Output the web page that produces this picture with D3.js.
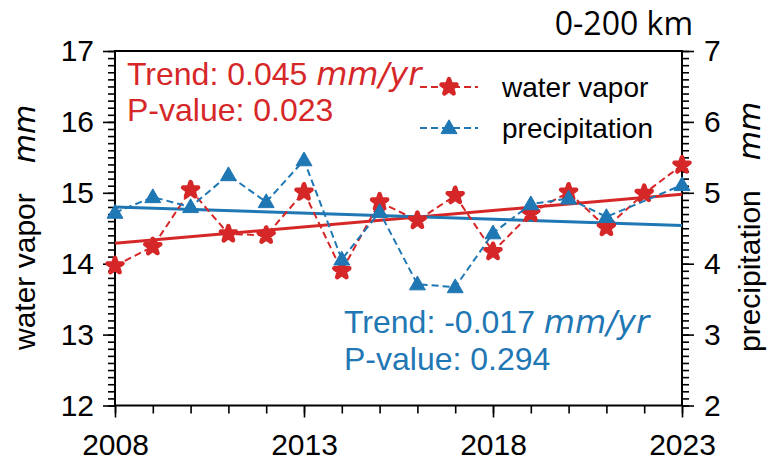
<!DOCTYPE html>
<html>
<head>
<meta charset="utf-8">
<script src="https://cdn.jsdelivr.net/npm/d3@7"></script>
<style>
html,body{margin:0;padding:0;background:#fff;}
svg{display:block;}
text{font-family:"Liberation Sans",Arial,Helvetica,sans-serif;fill:#000;}
.math{font-family:"DejaVu Sans",sans-serif;font-style:oblique;}
</style>
</head>
<body>
<svg id="chart" width="769" height="461"></svg>
<script>
const years = [2008,2009,2010,2011,2012,2013,2014,2015,2016,2017,2018,2019,2020,2021,2022,2023];
const waterVapor = [13.97,14.24,15.04,14.42,14.40,15.01,13.90,14.87,14.61,14.96,14.17,14.71,15.01,14.51,14.99,15.39];
const precipitation = [4.72,4.94,4.80,5.25,4.87,5.46,4.06,4.73,3.71,3.67,4.43,4.84,4.92,4.66,null,5.11];
const wvTrend = [14.29,14.98];      // fitted values at 2008 and 2023
const prTrend = [4.80,4.54];
const xTickLabels = [2008,2013,2018,2023];
const leftTicks = [12,13,14,15,16,17];
const rightTicks = [2,3,4,5,6,7];

const RED = "#d62728", BLUE = "#1f77b4";
const svg = d3.select("#chart");
const L = 115, R = 682, T = 51, B = 405.5;

const x = d3.scaleLinear().domain([2008,2023]).range([L,R]);
const yL = d3.scaleLinear().domain([12,17]).range([B,T]);
const yR = d3.scaleLinear().domain([2,7]).range([B,T]);

// axes
const fontSz = 30;
const minorL = d3.range(12,17.001,0.1).map(v=>+v.toFixed(1));
svg.append("g").attr("transform",`translate(${L},0)`)
  .call(d3.axisLeft(yL).tickValues(minorL).tickSize(7).tickFormat(""));
svg.append("g").attr("transform",`translate(${L},0)`)
  .call(d3.axisLeft(yL).tickValues(leftTicks).tickSize(12).tickPadding(9).tickFormat(d3.format("d")));
const minorR = d3.range(2,7.001,0.1).map(v=>+v.toFixed(1));
svg.append("g").attr("transform",`translate(${R},0)`)
  .call(d3.axisRight(yR).tickValues(minorR).tickSize(7).tickFormat(""));
svg.append("g").attr("transform",`translate(${R},0)`)
  .call(d3.axisRight(yR).tickValues(rightTicks).tickSize(12).tickPadding(10).tickFormat(d3.format("d")));
svg.append("g").attr("transform",`translate(0,${B})`)
  .call(d3.axisBottom(x).tickValues(years).tickSize(8).tickFormat(""));
svg.append("g").attr("transform",`translate(0,${B})`)
  .call(d3.axisBottom(x).tickValues(xTickLabels).tickSize(12).tickPadding(16).tickFormat(d3.format("d")));
svg.selectAll(".domain").remove();
svg.selectAll(".tick line").attr("stroke","#000").attr("stroke-width",1.6);
svg.selectAll(".tick text").attr("font-size",fontSz).attr("font-family","Liberation Sans, Arial, sans-serif").attr("fill","#000");

// frame
svg.append("rect").attr("x",L).attr("y",T).attr("width",R-L).attr("height",B-T)
  .attr("fill","none").attr("stroke","#000").attr("stroke-width",2);

// trend lines
svg.append("line").attr("x1",x(2008)).attr("x2",x(2023)).attr("y1",yL(wvTrend[0])).attr("y2",yL(wvTrend[1]))
  .attr("stroke",RED).attr("stroke-width",3);
svg.append("line").attr("x1",x(2008)).attr("x2",x(2023)).attr("y1",yR(prTrend[0])).attr("y2",yR(prTrend[1]))
  .attr("stroke",BLUE).attr("stroke-width",3);

// series
const wvData = years.map((y,i)=>({x:y,v:waterVapor[i]}));
const prData = years.map((y,i)=>({x:y,v:precipitation[i]})).filter(d=>d.v!==null);
const star = d3.symbol().type(d3.symbolStar).size(70);
const tri = d3.symbol().type(d3.symbolTriangle).size(110);

svg.append("path").datum(wvData)
  .attr("d",d3.line().x(d=>x(d.x)).y(d=>yL(d.v)))
  .attr("fill","none").attr("stroke",RED).attr("stroke-width",2).attr("stroke-dasharray","7,4");
svg.selectAll(".wv").data(wvData).join("path")
  .attr("transform",d=>`translate(${x(d.x)},${yL(d.v)})`).attr("d",star)
  .attr("fill",RED).attr("stroke",RED).attr("stroke-width",4.5).attr("stroke-linejoin","round");

svg.append("path").datum(prData)
  .attr("d",d3.line().x(d=>x(d.x)).y(d=>yR(d.v)))
  .attr("fill","none").attr("stroke",BLUE).attr("stroke-width",2).attr("stroke-dasharray","7,4");
svg.selectAll(".pr").data(prData).join("path")
  .attr("transform",d=>`translate(${x(d.x)},${yR(d.v)+1})`).attr("d",tri)
  .attr("fill",BLUE).attr("stroke",BLUE).attr("stroke-width",1);

// annotations
function annot(xp, y1, y2, color, trendTxt, pTxt){
  const t1 = svg.append("text").attr("x",xp).attr("y",y1).attr("font-size",32).style("fill",color);
  t1.append("tspan").text(trendTxt + " ");
  t1.append("tspan").attr("class","math").text("mm/yr");
  svg.append("text").attr("x",xp).attr("y",y2).attr("font-size",32).style("fill",color).text(pTxt);
}
annot(127,85,120.5,RED,"Trend: 0.045","P-value: 0.023");
annot(344,333,370,BLUE,"Trend: -0.017","P-value: 0.294");

// legend
const legend = [{label:"water vapor",color:RED,sym:star,y:87},{label:"precipitation",color:BLUE,sym:tri,y:128}];
legend.forEach(l=>{
  svg.append("line").attr("x1",420).attr("x2",478).attr("y1",l.y).attr("y2",l.y)
    .attr("stroke",l.color).attr("stroke-width",2).attr("stroke-dasharray","7,4");
  svg.append("path").attr("transform",`translate(449,${l.y + (l.sym===tri?1:0)})`).attr("d",l.sym)
    .attr("fill",l.color).attr("stroke",l.color).attr("stroke-width",l.sym===tri?1:4.5).attr("stroke-linejoin","round");
  svg.append("text").attr("x",502).attr("y",l.y).attr("dy","0.35em").attr("font-size",28).text(l.label);
});

// axis titles
const tl = svg.append("text").attr("transform","translate(35,350) rotate(-90)").attr("font-size",30);
tl.append("tspan").text("water vapor");
tl.append("tspan").attr("dx",30).attr("class","math").text("mm");
const tr = svg.append("text").attr("transform","translate(760,352) rotate(-90)").attr("font-size",30);
tr.append("tspan").text("precipitation");
tr.append("tspan").attr("dx",30).attr("class","math").text("mm");

// top label
svg.append("text").attr("x",693).attr("y",35).attr("text-anchor","end").attr("font-size",32)
  .style("font-family","'Open Sans', 'Noto Sans', sans-serif").text("0-200 km");
</script>
</body>
</html>
